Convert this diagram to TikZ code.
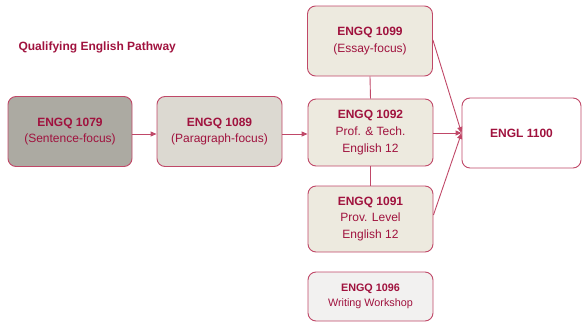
\documentclass[tikz,border=0pt]{standalone}
\usepackage{fontspec}
\setmainfont{Liberation Sans}
\usetikzlibrary{arrows.meta}
\definecolor{txt}{RGB}{160,18,62}
\definecolor{bord}{RGB}{192,72,104}
\definecolor{dark}{RGB}{172,170,162}
\definecolor{mid}{RGB}{220,217,209}
\definecolor{lite}{RGB}{237,234,223}
\definecolor{pale}{RGB}{242,241,240}
\tikzset{
  box/.style={draw=bord, line width=0.9pt, rounded corners=8pt, text=txt, align=center,
    inner sep=0pt, font=\fontsize{12}{16.8}\selectfont},
  conn/.style={draw=bord, line width=0.9pt},
  arr/.style={conn, -{Triangle[length=6pt,width=5pt]}},
}
\begin{document}
\begin{tikzpicture}[x=1pt,y=-1pt]
\useasboundingbox (0,0) rectangle (582,322);
\node[anchor=west, text=txt, font=\fontsize{12}{14}\selectfont\bfseries] (title) at (15,47) {Qualifying English Pathway};
\node[box, fill=dark, minimum width=124pt, minimum height=70pt] (a) at (70,131.5) {\textbf{ENGQ 1079}\\(Sentence-focus)};
\node[box, fill=mid, minimum width=125pt, minimum height=70pt] (b) at (219.5,131.5) {\textbf{ENGQ 1089}\\(Paragraph-focus)};
\node[box, fill=lite, minimum width=125pt, minimum height=70pt] (c) at (370,41) {\textbf{ENGQ 1099}\\(Essay-focus)};
\node[box, fill=lite, minimum width=125pt, minimum height=67pt] (d) at (370.5,132.5) {\textbf{ENGQ 1092}\\Prof. \& Tech.\\English 12};
\node[box, fill=lite, minimum width=125pt, minimum height=66pt] (e) at (370.5,219) {\textbf{ENGQ 1091}\\Prov. Level\\English 12};
\node[box, fill=pale, minimum width=125pt, minimum height=49pt, font=\fontsize{10.8}{15}\selectfont] (f) at (370.5,296.5) {\textbf{ENGQ 1096}\\Writing Workshop};
\node[box, fill=white, minimum width=119pt, minimum height=70pt] (g) at (521.5,133) {\textbf{ENGL 1100}};
\draw[arr] (a.east |- 0,134) -- (b.west |- 0,134);
\draw[arr] (b.east |- 0,134) -- (d.west |- 0,134);
\draw[conn] (c.south) -- (d.north);
\draw[conn] (d.south) -- (e.north);
\coordinate (m) at (g.west);
\draw[arr] (c.east) ++(0,-1) -- (m);
\draw[arr] (d.east |- m) -- (m);
\draw[arr] (e.east) ++(0,-4) -- (m);
\end{tikzpicture}
\end{document}
